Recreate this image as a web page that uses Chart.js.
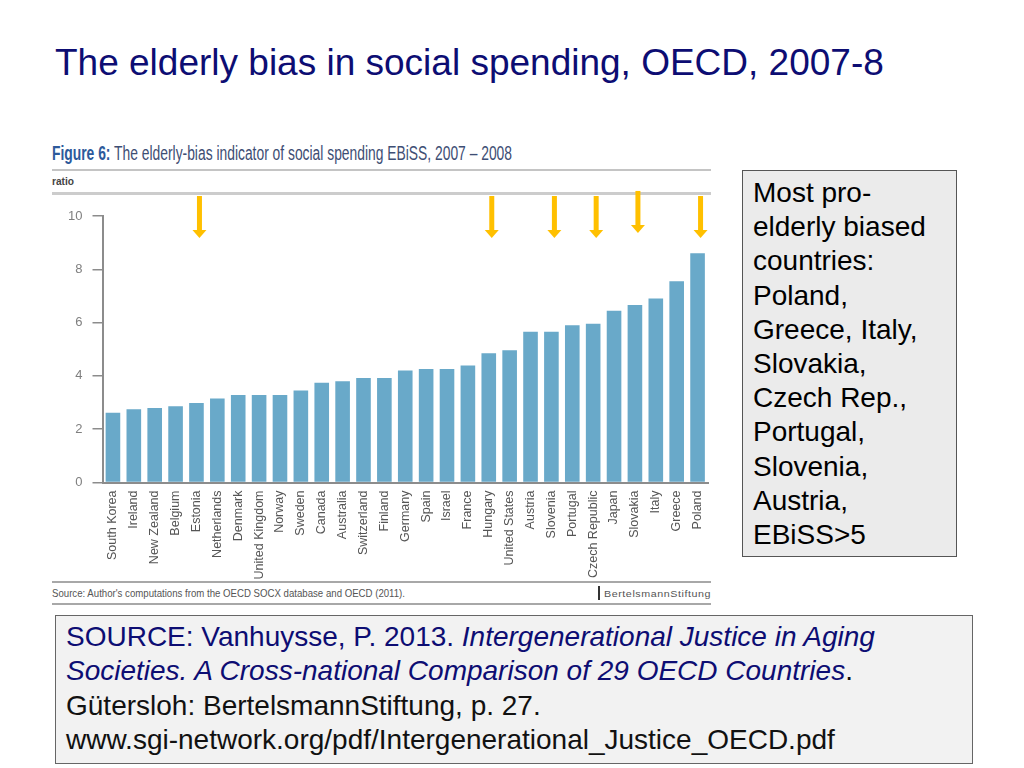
<!DOCTYPE html>
<html>
<head>
<meta charset="utf-8">
<script src="https://cdn.jsdelivr.net/npm/chart.js@4"></script>
<style>
html,body{margin:0;padding:0;background:#fff;}
#wrap{position:relative;width:1024px;height:768px;overflow:hidden;font-family:'Liberation Sans',Arial,sans-serif;}
#c{position:absolute;left:0;top:0;z-index:2;}
.abs{position:absolute;white-space:nowrap;line-height:1;}
.line{position:absolute;}
#title{left:55px;top:44px;font-size:37px;color:#0D0D73;}
#fighead{left:52px;top:143px;font-size:20px;color:#3E4E74;}
#fighead b{color:#2D5A9B;}
#ratio{left:52px;top:177px;font-size:10px;color:#444;font-weight:bold;}
#src{left:52px;top:588px;font-size:11px;color:#555;}
#bsbar{position:absolute;left:598px;top:586px;width:2px;height:14px;background:#333;}
#bs{left:604px;top:589px;font-size:9.5px;color:#555;letter-spacing:0.5px;}
#rbox{position:absolute;left:742px;top:170px;width:213px;height:385px;background:#EBEBEB;border:1px solid #555;}
#rtext{position:absolute;left:753px;top:176px;font-size:28px;line-height:34.2px;color:#000;white-space:nowrap;}
#bbox{position:absolute;left:55px;top:615px;width:916px;height:147px;background:#F2F2F2;border:1px solid #666;}
#btext{position:absolute;left:66px;top:620px;font-size:28px;line-height:34.4px;color:#111;white-space:nowrap;}
.navy{color:#0D0D73;}
</style>
</head>
<body>
<div id="wrap">
  <div class="abs" id="title">The elderly bias in social spending, OECD, 2007-8</div>
  <div class="abs" id="fighead"><b>Figure 6:</b> The elderly-bias indicator of social spending EBiSS, 2007 – 2008</div>
  <div class="line" style="left:52px;top:169px;width:659px;height:2px;background:#C4C4C4;"></div>
  <div class="abs" id="ratio">ratio</div>
  <div class="line" style="left:52px;top:192px;width:659px;height:3px;background:#CCCCCC;"></div>
  <div class="line" style="left:52px;top:581px;width:659px;height:2px;background:#A8A8A8;"></div>
  <div class="abs" id="src">Source: Author's computations from the OECD SOCX database and OECD (2011).</div>
  <div id="bsbar"></div>
  <div class="abs" id="bs">BertelsmannStiftung</div>
  <div class="line" style="left:52px;top:603px;width:659px;height:2px;background:#A8A8A8;"></div>
  <div id="rbox"></div>
  <div id="rtext">Most pro-<br>elderly biased<br>countries:<br>Poland,<br>Greece, Italy,<br>Slovakia,<br>Czech Rep.,<br>Portugal,<br>Slovenia,<br>Austria,<br>EBiSS&gt;5</div>
  <div id="bbox"></div>
  <div id="btext"><span class="navy">SOURCE: Vanhuysse, P. 2013. <i>Intergenerational Justice in Aging</i></span><br><span class="navy"><i>Societies. A Cross-national Comparison of 29 OECD Countries</i></span>.<br>Gütersloh: BertelsmannStiftung, p. 27.<br>www.sgi-network.org/pdf/Intergenerational_Justice_OECD.pdf</div>
  <canvas id="c" width="1024" height="768"></canvas>
</div>
<script>
const categories = ['South Korea','Ireland','New Zealand','Belgium','Estonia','Netherlands','Denmark','United Kingdom','Norway','Sweden','Canada','Australia','Switzerland','Finland','Germany','Spain','Israel','France','Hungary','United States','Austria','Slovenia','Portugal','Czech Republic','Japan','Slovakia','Italy','Greece','Poland'];
const ebissValues = [2.62,2.75,2.80,2.86,2.98,3.15,3.28,3.28,3.28,3.45,3.74,3.80,3.92,3.92,4.20,4.26,4.26,4.39,4.85,4.96,5.66,5.66,5.90,5.96,6.44,6.66,6.90,7.55,8.60];
const yTicks = [0,2,4,6,8,10];
const arrowCountries = ['Estonia','Hungary','Slovenia','Czech Republic','Slovakia','Poland'];
const arrowTops = [10.75,10.75,10.75,10.75,10.94,10.75];
const arrowTips = [9.17,9.17,9.17,9.17,9.36,9.17];

function fitWidth(id, w){
  const el = document.getElementById(id);
  el.style.transformOrigin = '0 0';
  const r = el.getBoundingClientRect().width;
  el.style.transform = 'scaleX(' + (w / r) + ')';
}
fitWidth('fighead', 460);
fitWidth('ratio', 22);
fitWidth('src', 353);
fitWidth('bs', 107);

const arrowPlugin = {
  id: 'arrows',
  afterDatasetsDraw(chart){
    const ctx = chart.ctx, xs = chart.scales.x, ys = chart.scales.y;
    ctx.save();
    ctx.fillStyle = '#FFC000';
    arrowCountries.forEach((name, i) => {
      const idx = categories.indexOf(name);
      const x = xs.getPixelForValue(idx) + 3;
      const yT = ys.getPixelForValue(arrowTops[i]);
      const yB = ys.getPixelForValue(arrowTips[i]);
      const headH = 8, shaftW = 5, headW = 14;
      ctx.fillRect(x - shaftW/2, yT, shaftW, yB - yT - headH + 1);
      ctx.beginPath();
      ctx.moveTo(x - headW/2, yB - headH);
      ctx.lineTo(x + headW/2, yB - headH);
      ctx.lineTo(x, yB);
      ctx.closePath();
      ctx.fill();
    });
    ctx.restore();
  }
};

new Chart(document.getElementById('c').getContext('2d'), {
  type: 'bar',
  data: {
    labels: categories,
    datasets: [{
      data: ebissValues,
      backgroundColor: '#69A9C9',
      barPercentage: 0.7,
      categoryPercentage: 1.0
    }]
  },
  options: {
    responsive: false,
    animation: false,
    layout: { padding: { left: 0, top: 216, right: 316, bottom: 185.5 } },
    plugins: { legend: { display: false }, tooltip: { enabled: false }, title: { display: false } },
    scales: {
      x: {
        grid: { display: false },
        border: { display: true, color: '#8c8c8c', width: 2 },
        ticks: {
          autoSkip: false, minRotation: 90, maxRotation: 90, padding: 0,
          color: '#555555',
          font: { family: "'Liberation Sans', Arial, sans-serif", size: 12.5 }
        },
        afterFit(s){ s.height = 100; }
      },
      y: {
        min: 0, max: 10,
        grid: { display: true, drawOnChartArea: false, drawTicks: true, tickLength: 10, color: '#8c8c8c', lineWidth: 1.5 },
        border: { display: true, color: '#8c8c8c', width: 2 },
        ticks: {
          stepSize: 2, padding: 10, color: '#7f7f7f',
          font: { family: "'Liberation Sans', Arial, sans-serif", size: 13 }
        },
        afterBuildTicks(s){ s.ticks = yTicks.map(v => ({ value: v })); },
        afterFit(s){ s.width = 102.5; }
      }
    }
  },
  plugins: [arrowPlugin]
});
</script>
</body>
</html>
